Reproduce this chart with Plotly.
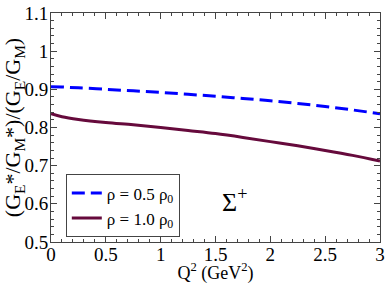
import plotly.graph_objects as go

q2 = [0.0, 0.1, 0.25, 0.5, 0.75, 1.0, 1.25, 1.5, 1.75, 2.0, 2.25, 2.5, 2.75, 3.0]
ratio_half = [0.907, 0.906, 0.904, 0.900, 0.896, 0.892, 0.887, 0.882, 0.876, 0.870, 0.863, 0.855, 0.846, 0.836]
ratio_full = [0.836, 0.828, 0.821, 0.813, 0.807, 0.800, 0.792, 0.784, 0.774, 0.763, 0.752, 0.740, 0.727, 0.712]
y_ticks = [0.5, 0.6, 0.7, 0.8, 0.9, 1.0, 1.1]
y_tick_labels = ["0.5", "0.6", "0.7", "0.8", "0.9", "1", "1.1"]

font = "Liberation Serif, Times New Roman, serif"

fig = go.Figure()
fig.add_trace(go.Scatter(x=q2, y=ratio_half, mode="lines", line=dict(color="#0000ff", width=3, dash="13px,6px"),
                         name="ρ = 0.5 ρ<sub>0</sub>", line_shape="spline"))
fig.add_trace(go.Scatter(x=q2, y=ratio_full, mode="lines", line=dict(color="#660a3c", width=3),
                         name="ρ = 1.0 ρ<sub>0</sub>", line_shape="spline"))

axis_common = dict(showline=True, linecolor="#444", linewidth=1, mirror="ticks", ticks="inside",
                   ticklen=6, tickcolor="#444", showgrid=False, zeroline=False,
                   ticklabeloverflow="allow",
                   tickfont=dict(family=font, size=19, color="black"))
fig.update_xaxes(range=[0, 3], dtick=0.5, ticklabelstandoff=-5,
                 minor=dict(ticks="inside", ticklen=3, dtick=0.1, tickcolor="#444"),
                 title=dict(text="Q<sup>2</sup> (GeV<sup>2</sup>)", font=dict(family=font, size=18, color="black"), standoff=0),
                 **axis_common)
fig.update_yaxes(range=[0.5, 1.1], tickvals=y_ticks, ticktext=y_tick_labels, ticklabelstandoff=-2,
                 minor=dict(ticks="inside", ticklen=3, dtick=0.02, tickcolor="#444"),
                 title=dict(text="(G<sub>E</sub>*/G<sub>M</sub>*)/(G<sub>E</sub>/G<sub>M</sub>)", font=dict(family=font, size=22, color="black"), standoff=0),
                 **axis_common)

fig.add_annotation(x=1.67, y=0.61, text="Σ<sup>+</sup>", showarrow=False,
                   font=dict(family=font, size=26, color="black"), xref="x", yref="y")

fig.update_layout(width=388, height=284, margin=dict(l=51, r=3, t=6, b=42),
                  plot_bgcolor="white", paper_bgcolor="white", showlegend=True,
                  legend=dict(x=0.045, y=0.295, xanchor="left", yanchor="top",
                              bordercolor="#444", borderwidth=1, bgcolor="white",
                              font=dict(family=font, size=17, color="black"),
                              tracegroupgap=0, itemwidth=30))

fig.write_html("out.html", config={"displayModeBar": False},
               post_script="document.body.style.margin='0';document.body.style.padding='0';")
